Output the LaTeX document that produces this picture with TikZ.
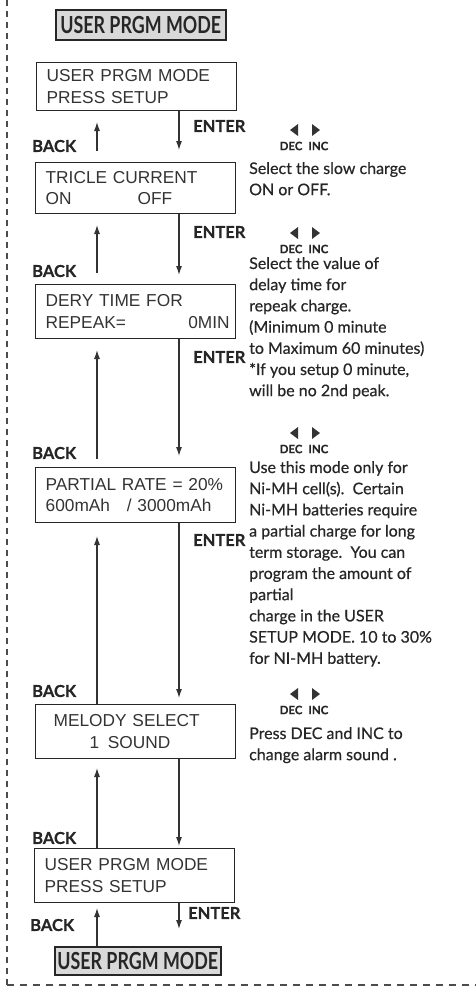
\documentclass[tikz,border=0pt]{standalone}
\usepackage{fontspec}
\setmainfont[FakeBold=0.5]{Lato}
\newfontfamily\lcdfont{Liberation Sans}
\newfontfamily\headfont[FakeStretch=0.76]{Lato}
\usetikzlibrary{arrows.meta}

\tikzset{
  lcd/.style={draw=black!85, line width=1.3pt, anchor=north west, inner xsep=10pt, inner ysep=0pt,
    text width=180pt, minimum height=54pt, align=left, text=black!80,
    font=\lcdfont\fontsize{17.3}{21.5}\selectfont},
  modebox/.style={draw=black!85, fill=black!15, line width=1.5pt, anchor=north west, inner sep=0pt,
    text=black!85, font=\headfont\bfseries\fontsize{23.5}{23.5}\selectfont},
  keylbl/.style={anchor=west, inner sep=0pt, text=black!85, font=\bfseries\fontsize{16.5}{16.5}\selectfont},
  note/.style={anchor=north west, inner sep=0pt, align=left, text=black!85,
    font=\fontsize{16}{21.2}\selectfont},
  deckey/.style={inner sep=0pt, text=black!85, font=\bfseries\fontsize{11.5}{11.5}\selectfont},
  arr/.style={-{Latex[length=9pt,width=6pt]}, line width=1.1pt, draw=black!80}
}

\begin{document}
\begin{tikzpicture}[x=1pt, y=-1pt]
  \useasboundingbox (0,0) rectangle (476,991);

  % frame
  \draw[line width=1.2pt, black!70, dash pattern=on 6pt off 5pt] (7,0) -- (7,985);
  \draw[line width=1.2pt, black!70, dash pattern=on 7pt off 6pt] (7,985) -- (476,985);

  % mode boxes and displays
  \node[modebox, minimum width=170pt, minimum height=30pt] (t1) at (55,9) {USER PRGM MODE};
  \node[lcd, minimum height=48pt] (b1) at (36,62) {USER PRGM MODE\\PRESS SETUP};
  \node[lcd, minimum height=51pt] (b2) at (35,162) {TRICLE CURRENT\\ON\hspace{66pt}OFF};
  \node[lcd] (b3) at (35,284) {DERY TIME FOR\\REPEAK=\hfill 0MIN\hspace*{-4pt}};
  \node[lcd, minimum height=55pt] (b4) at (35,467) {PARTIAL RATE = 20\%\\600mAh\hspace{11pt} / 3000mAh};
  \node[lcd] (b5) at (35,704) {\hspace*{8pt}MELODY SELECT\\\hspace*{44pt}1\enspace SOUND};
  \node[lcd] (b6) at (34,848) {USER PRGM MODE\\PRESS SETUP};
  \node[modebox, minimum width=166pt, minimum height=28pt] (t2) at (54,946) {USER PRGM MODE};

  % ENTER arrows
  \coordinate (e1) at (179,150);
  \coordinate (e2) at (179,275);
  \coordinate (e3) at (179,456);
  \coordinate (e4) at (179,698);
  \coordinate (e5) at (179,846);
  \coordinate (e6) at (179,929);
  \draw[arr] (b1.south -| e1) -- (e1); % b1-b2
  \draw[arr] (b2.south -| e2) -- (e2); % b2-b3
  \draw[arr] (b3.south -| e3) -- (e3); % b3-b4
  \draw[arr] (b4.south -| e4) -- (e4); % b4-b5
  \draw[arr] (b5.south -| e5) -- (e5); % b5-b6
  \draw[arr] (b6.south -| e6) -- (e6); % b6-t2

  % BACK arrows
  \coordinate (k1s) at (97,151);
  \coordinate (k1) at (97,122);
  \coordinate (k2s) at (97,273);
  \coordinate (k2) at (97,225);
  \coordinate (k3s) at (97,459);
  \coordinate (k3) at (97,350);
  \coordinate (k4) at (97,536);
  \coordinate (k5) at (97,768);
  \coordinate (k6) at (97,908);
  \draw[arr] (k1s) -- (k1); % b2-b1
  \draw[arr] (k2s) -- (k2); % b3-b2
  \draw[arr] (k3s) -- (k3); % b4-b3
  \draw[arr] (b5.north -| k4) -- (k4); % b5-b4
  \draw[arr] (b6.north -| k5) -- (k5); % b6-b5
  \draw[arr] (t2.north -| k6) -- (k6); % t2-b6

  \node[keylbl] (en1) at (193,126) {ENTER};
  \node[keylbl] (en2) at (193,232) {ENTER};
  \node[keylbl] (en3) at (193,357) {ENTER};
  \node[keylbl] (en4) at (193,540) {ENTER};
  \node[keylbl] (en6) at (188,913) {ENTER};
  \node[keylbl] (bk1) at (32,146) {BACK};
  \node[keylbl] (bk2) at (32,271) {BACK};
  \node[keylbl] (bk3) at (32,453) {BACK};
  \node[keylbl] (bk4) at (32,691) {BACK};
  \node[keylbl] (bk5) at (32,838) {BACK};
  \node[keylbl] (bk6) at (30,925) {BACK};

  % DEC / INC keys
  \foreach \y/\n in {130/1, 233/2, 433/3, 694/4} {
    \fill[black!80] (298,\y-6) -- (290,\y) -- (298,\y+6) -- cycle;
    \fill[black!80] (312,\y-6) -- (320,\y) -- (312,\y+6) -- cycle;
    \node[deckey] (dk\n) at (304,\y+16) {DEC\hspace{6pt}INC};
  }

  % notes
  \node[note] (n1) at (249,162) {Select the slow charge\\ON or OFF.};
  \node[note] (n2) at (249,257) {Select the value of\\delay time for\\repeak charge.\\(Minimum 0 minute\\to Maximum 60 minutes)\\*If you setup 0 minute,\\will be no 2nd peak.};
  \node[note] (n3) at (249,461) {Use this mode only for\\Ni-MH cell(s).~~Certain\\Ni-MH batteries require\\a partial charge for long\\term storage.~~You can\\program the amount of\\partial\\charge in the USER\\SETUP MODE. 10 to 30\%\\for NI-MH battery.};
  \node[note] (n4) at (249,727) {Press DEC and INC to\\change alarm sound .};
\end{tikzpicture}
\end{document}
